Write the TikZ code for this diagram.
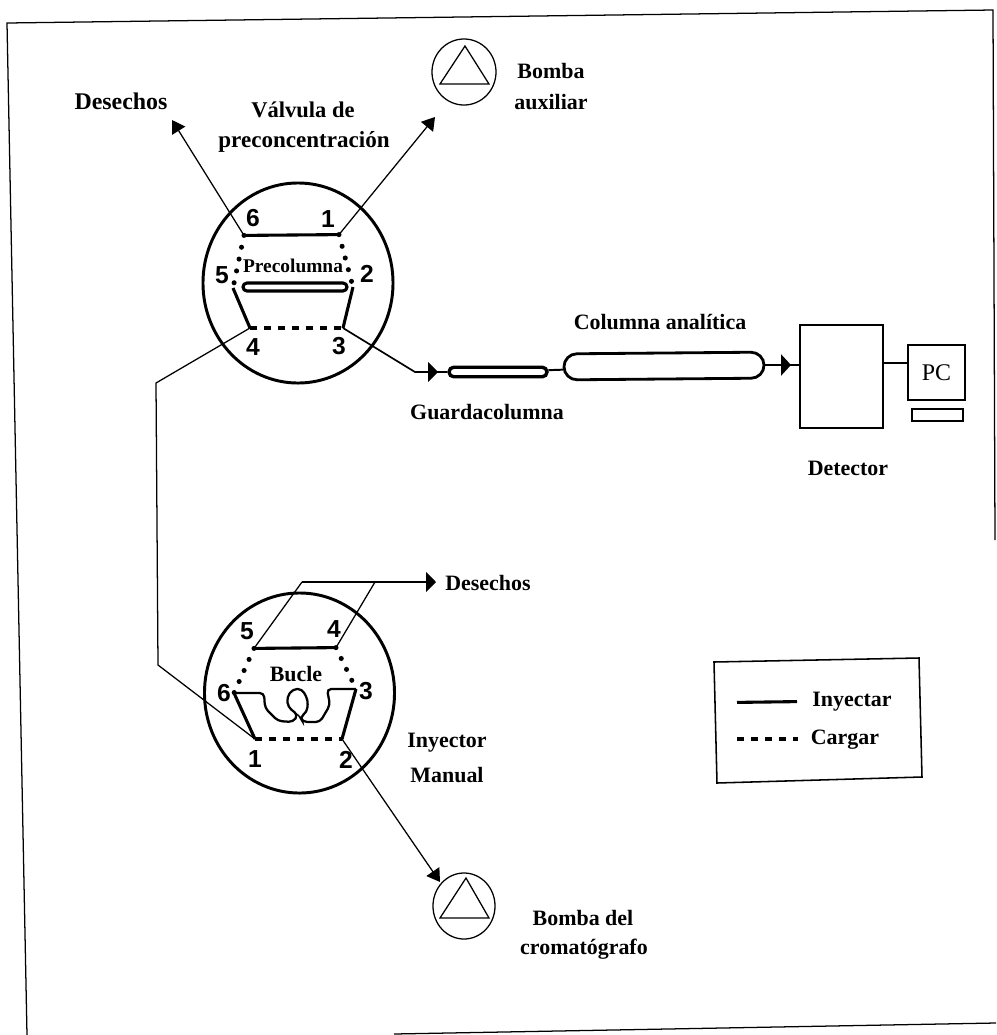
\documentclass[tikz,border=0pt]{standalone}
\usepackage{fontspec}
\setmainfont{Liberation Serif}
\setsansfont{Liberation Sans}
\usepackage{tikz}
\usetikzlibrary{shapes.geometric,shapes.misc,arrows.meta}
\tikzset{
  label/.style={font=\fontsize{15.6}{18}\selectfont\bfseries, inner sep=0pt},
  wastelabel/.style={font=\fontsize{17}{20}\selectfont\bfseries, inner sep=0pt},
  smalllabel/.style={font=\fontsize{13.8}{16}\selectfont\bfseries, inner sep=0pt},
  port/.style={font=\fontsize{17.5}{20}\selectfont\sffamily\bfseries, inner sep=0pt},
  valve/.style={ellipse, draw, line width=2.1pt, minimum width=4.75cm, minimum height=5cm, inner sep=0pt},
  pump/.style={ellipse, draw, line width=0.9pt, inner sep=0pt},
  pipe/.style={line width=0.9pt},
  flowarrow/.style={pipe, -{Triangle[length=9pt,width=11pt]}},
  inlinearrow/.style={pipe, -{Triangle[length=7pt,width=#1]}},
  inject/.style={line width=2.2pt},
  load/.style={line width=2.4pt, dash pattern=on 5pt off 5pt},
  dotline/.style={line width=3.6pt, line cap=round, dash pattern=on 0pt off 8.6pt},
  box/.style={draw, line width=1.9pt, inner sep=0pt},
}

\begin{document}
\begin{tikzpicture}[x=0.025cm,y=-0.025cm]
  \useasboundingbox (0,0) rectangle (996,1035);

  % outer frame, open at the bottom left
  \coordinate (fa) at (7,23);
  \coordinate (fb) at (993,10);
  \coordinate (fc) at (995,540);
  \coordinate (fd) at (27,1035);
  \coordinate (fe) at (394,1034);
  \coordinate (ff) at (996,1023);
  \draw[line width=0.9pt] (fd) -- (fa) -- (fb) -- (fc);
  \draw[line width=0.9pt] (fe) -- (ff);

  % preconcentration valve
  \node[valve] (valveA) at (298,283) {};
  \coordinate (a6) at (244,235.4);
  \coordinate (a1) at (339,234.6);
  \coordinate (a5) at (233,288);
  \coordinate (a2) at (353,287);
  \coordinate (a4) at (250,328);
  \coordinate (a3) at (343,328);
  \draw[inject] (a6) -- (a1);
  \draw[inject] (a5) -- (a4);
  \draw[inject] (a2) -- (a3);
  \draw[load] (a4) -- (a3);
  \draw[dotline] (a6) -- (a5);
  \draw[dotline] (a1) -- (a2);
  \node[port] (a6txt) at (253,218) {6};
  \node[port] (a1txt) at (328,219) {1};
  \node[port] (a5txt) at (222,275) {5};
  \node[port] (a2txt) at (367,274) {2};
  \node[port] (a4txt) at (253,347) {4};
  \node[port] (a3txt) at (339,346) {3};
  \node[smalllabel] (precol) at (293,266) {Precolumna};
  \node[rounded rectangle, draw, line width=2.2pt, minimum width=2.6cm, minimum height=0.2cm, inner sep=0pt] (precolbar) at (295,287) {};

  % manual injector
  \node[valve] (valveB) at (299.5,693) {};
  \coordinate (b5) at (254,648.4);
  \coordinate (b4) at (336,647.6);
  \coordinate (b6) at (234,693);
  \coordinate (b3) at (356,689);
  \coordinate (b1) at (255,739);
  \coordinate (b2) at (342,739);
  \draw[inject] (b5) -- (b4);
  \draw[inject] (b6) -- (b1);
  \draw[inject] (b3) -- (b2);
  \draw[load] (b1) -- (b2);
  \draw[dotline] (b5) -- (b6);
  \draw[dotline] (b4) -- (b3);
  % sample loop
  \draw[line width=1.6pt, rounded corners=3pt] (b6) -- (264,693) -- (265,708) -- (278,721) -- (293,722)
    -- (298,715) -- (288,707) -- (287,697) -- (293,689) -- (302,689) -- (308,700) -- (307,712)
    -- (300,717) -- (303,722) -- (320,722) -- (330,705) -- (327,689) -- (b3);
  \node[port] (b5txt) at (247,631) {5};
  \node[port] (b4txt) at (334,629) {4};
  \node[port] (b6txt) at (224,693) {6};
  \node[port] (b3txt) at (366,691) {3};
  \node[port] (b1txt) at (255,759) {1};
  \node[port] (b2txt) at (346,760) {2};
  \node[label] (bucle) at (296,674) {Bucle};

  % pumps
  \node[pump, minimum width=1.6cm, minimum height=1.65cm] (pumpA) at (464,72) {};
  \node[pump, minimum width=1.55cm, minimum height=1.65cm] (pumpB) at (464,906) {};
  \draw[pipe] (465,46) -- (440,84) -- (489,84) -- cycle;
  \draw[pipe] (466,878) -- (440,918) -- (489,918) -- cycle;

  % tubing
  \coordinate (tipwaste) at (172,120);
  \coordinate (tipaux) at (435,117);
  \coordinate (tipgrad) at (440,882);
  \coordinate (bendA) at (156,383);
  \coordinate (bendB) at (158,665);
  \coordinate (bendC) at (415,372);
  \coordinate (topA) at (302,582);
  \coordinate (topB) at (375,582);
  \coordinate (tipout) at (436,582);
  \draw[flowarrow] (a6) -- (tipwaste);
  \draw[flowarrow] (a1) -- (tipaux);
  \draw[pipe] (a4) -- (bendA) -- (bendB) -- (b1);
  \draw[flowarrow] (b2) -- (tipgrad);
  \draw[pipe] (b5) -- (topA);
  \draw[pipe] (b4) -- (topB);
  \draw[pipe, line width=1.3pt, -{Triangle[length=7pt,width=14pt]}] (topA) -- (tipout);

  % columns and detector
  \coordinate (inlet) at (438,372);
  \coordinate (inletB) at (791,365);
  \node[rounded rectangle, draw, line width=2.4pt, minimum width=2.45cm, minimum height=0.24cm, inner sep=0pt] (guard) at (498,372) {};
  \node[rounded rectangle, draw, line width=2pt, minimum width=5cm, minimum height=0.65cm, inner sep=0pt, rotate=0.5] (column) at (664,366) {};
  \node[box, minimum width=2.08cm, minimum height=2.58cm] (detector) at (841.5,376.5) {};
  \node[box, minimum width=1.42cm, minimum height=1.38cm, font=\fontsize{17}{20}\selectfont] (pc) at (936.5,372.5) {PC};
  \node[draw, line width=1.4pt, inner sep=0pt, minimum width=1.27cm, minimum height=0.3cm] (keyboard) at (937.5,415) {};
  \draw[pipe, line width=1.2pt] (a3) -- (bendC) -- (inlet);
  \draw[inlinearrow=14pt] (bendC) -- (inlet);
  \draw[pipe, line width=1.4pt] (inlet) -- (guard);
  \draw[pipe, line width=1.4pt] (guard) -- (column);
  \draw[pipe, line width=1.4pt] (column.east |- inletB) -- (inletB);
  \draw[inlinearrow=15pt] (column.east |- inletB) -- (inletB);
  \draw[pipe, line width=1.4pt] (inletB) -- (detector.west |- inletB);
  \draw[pipe, line width=1.4pt] (detector.east |- 0,363) -- (pc.west |- 0,363);

  % labels
  \node[wastelabel] (wasteA) at (121,101) {Desechos};
  \node[wastelabel, font=\fontsize{16}{20}\selectfont\bfseries] (valvetxt) at (303,110) {Válvula de};
  \node[wastelabel, font=\fontsize{16.4}{20}\selectfont\bfseries] (valvetxtb) at (304,142) {preconcentración};
  \node[label] (auxa) at (551,71) {Bomba};
  \node[label] (auxb) at (551,102) {auxiliar};
  \node[label] (coltxt) at (660,322) {Columna analítica};
  \node[label] (guardtxt) at (487,412) {Guardacolumna};
  \node[label] (dettxt) at (848,468) {Detector};
  \node[label] (wasteB) at (488,583) {Desechos};
  \node[label] (injtxta) at (447,743) {Inyector};
  \node[label] (injtxtb) at (447,775) {Manual};
  \node[label] (gradtxta) at (583,918) {Bomba del};
  \node[label] (gradtxtb) at (584,949) {cromatógrafo};

  % legend
  \coordinate (la) at (714,662);
  \coordinate (lb) at (919,658);
  \coordinate (lc) at (922,777);
  \coordinate (ld) at (717,783);
  \draw[line width=1.1pt] (la) -- (lb) -- (lc) -- (ld) -- cycle;
  \coordinate (ia) at (737,702.4);
  \coordinate (ib) at (797,701.6);
  \coordinate (ca) at (737,739);
  \coordinate (cb) at (798,739);
  \draw[inject] (ia) -- (ib);
  \draw[load] (ca) -- (cb);
  \node[label] (injleg) at (852,702) {Inyectar};
  \node[label] (loadleg) at (845,740) {Cargar};
\end{tikzpicture}
\end{document}
